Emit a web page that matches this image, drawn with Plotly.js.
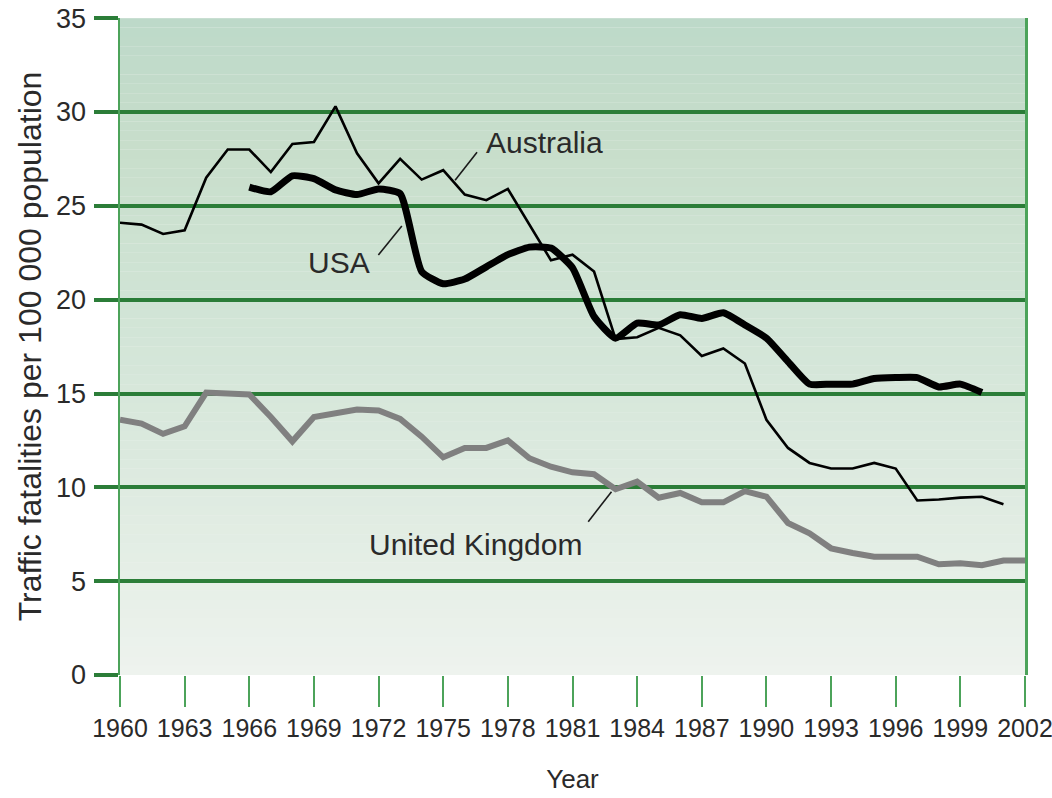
<!DOCTYPE html>
<html>
<head>
<meta charset="utf-8">
<script src="https://cdn.plot.ly/plotly-3.0.1.min.js"></script>
<style>
  html, body { margin: 0; padding: 0; background: #ffffff; }
  #chart { width: 1052px; height: 798px; }
</style>
</head>
<body>
<div id="chart"></div>
<script>
// ---- Data ----
const years = [1960,1961,1962,1963,1964,1965,1966,1967,1968,1969,
               1970,1971,1972,1973,1974,1975,1976,1977,1978,1979,
               1980,1981,1982,1983,1984,1985,1986,1987,1988,1989,
               1990,1991,1992,1993,1994,1995,1996,1997,1998,1999,
               2000,2001,2002];

const australiaYears = years.slice(0, 42); // 1960-2001
const australia = [24.1,24.0,23.5,23.7,26.5,28.0,28.0,26.8,28.3,28.4,
                   30.3,27.8,26.2,27.5,26.4,26.9,25.6,25.3,25.9,24.0,
                   22.1,22.4,21.5,17.9,18.0,18.5,18.1,17.0,17.4,16.6,
                   13.6,12.1,11.3,11.0,11.0,11.3,11.0,9.3,9.35,9.45,
                   9.5,9.1];

const usaYears = years.slice(6, 41); // 1966-2000
const usa = [26.0,25.75,26.6,26.45,25.85,25.6,25.9,25.65,21.5,20.85,
             21.1,21.75,22.4,22.8,22.75,21.7,19.1,17.95,18.75,18.65,
             19.2,19.0,19.3,18.65,17.95,16.7,15.5,15.5,15.5,15.8,
             15.85,15.85,15.35,15.5,15.05];

const ukYears = years; // 1960-2002
const uk = [13.6,13.4,12.85,13.25,15.05,15.0,14.95,13.75,12.45,13.75,
            13.95,14.15,14.1,13.65,12.7,11.6,12.1,12.1,12.5,11.55,
            11.1,10.8,10.7,9.9,10.3,9.45,9.7,9.2,9.2,9.8,
            9.5,8.1,7.55,6.75,6.5,6.3,6.3,6.3,5.9,5.95,
            5.85,6.1,6.1];

const seriesLabels = ["Australia", "USA", "United Kingdom"];
const xTitle = "Year";
const yTitle = "Traffic fatalities per 100 000 population";

// ---- Styling ----
const FONT = '"Liberation Sans", Arial, sans-serif';
const GRID = '#2b7d38';
const BORDER = '#4ca35a';
const TXT = '#2a2a2a';

// background gradient bands (decoration)
const stops = [
  [0,  [238,243,238]],
  [5,  [230,239,231]],
  [12, [219,233,222]],
  [20, [208,228,213]],
  [28, [200,222,203]],
  [35, [189,217,201]]
];
function colAt(v) {
  for (let i = 0; i < stops.length - 1; i++) {
    const [a, ca] = stops[i], [b, cb] = stops[i+1];
    if (v >= a && v <= b) {
      const t = (v - a) / (b - a);
      return 'rgb(' + ca.map((c, k) => Math.round(c + (cb[k] - c) * t)).join(',') + ')';
    }
  }
  return 'rgb(238,243,238)';
}
const shapes = [];
const band = 0.5;
for (let v = 0; v < 35; v += band) {
  shapes.push({
    type: 'rect', xref: 'x domain', yref: 'y', x0: 0, x1: 1, y0: v, y1: v + band,
    fillcolor: colAt(v + band / 2), line: { width: 0 }, layer: 'below'
  });
}
// leader lines for the series labels
const leaders = [
  [1975.55, 26.37, 1976.57, 27.85],
  [1971.99, 22.38, 1973.08, 23.92],
  [1981.73, 8.17, 1982.81, 9.77]
];
leaders.forEach(l => shapes.push({
  type: 'line', xref: 'x', yref: 'y', x0: l[0], y0: l[1], x1: l[2], y1: l[3],
  line: { color: '#1a1a1a', width: 1.6 }, layer: 'above'
}));

const traces = [
  { x: ukYears, y: uk, name: seriesLabels[2], mode: 'lines',
    line: { color: '#808080', width: 6, shape: 'linear' }, hoverinfo: 'x+y+name' },
  { x: australiaYears, y: australia, name: seriesLabels[0], mode: 'lines',
    line: { color: '#000000', width: 2.6, shape: 'linear' }, hoverinfo: 'x+y+name' },
  { x: usaYears, y: usa, name: seriesLabels[1], mode: 'lines',
    line: { color: '#000000', width: 7, shape: 'spline', smoothing: 0.5 }, hoverinfo: 'x+y+name' }
];

const annFont = { family: FONT, size: 30, color: TXT };
const annotations = [
  { x: 1976.9, y: 28.4, xref: 'x', yref: 'y', text: seriesLabels[0], showarrow: false,
    xanchor: 'left', yanchor: 'middle', font: annFont },
  { x: 1971.7, y: 22.0, xref: 'x', yref: 'y', text: seriesLabels[1], showarrow: false,
    xanchor: 'right', yanchor: 'middle', font: annFont },
  { x: 1981.55, y: 6.95, xref: 'x', yref: 'y', text: seriesLabels[2], showarrow: false,
    xanchor: 'right', yanchor: 'middle', font: annFont }
];

const layout = {
  width: 1052, height: 798,
  margin: { l: 120, r: 27, t: 18, b: 123 },
  paper_bgcolor: '#ffffff',
  plot_bgcolor: '#eef3ee',
  showlegend: false,
  xaxis: {
    range: [1960, 2002], tick0: 1960, dtick: 3, tickmode: 'linear',
    showgrid: false, zeroline: false, showline: false,
    ticks: 'outside', ticklen: 31, tickwidth: 2, tickcolor: BORDER,
    tickangle: 0, ticklabeloverflow: 'allow',
    tickfont: { family: FONT, size: 25, color: TXT },
    title: { text: xTitle, font: { family: FONT, size: 26, color: TXT }, standoff: 28 },
    fixedrange: true
  },
  yaxis: {
    range: [0, 35.01], tick0: 0, dtick: 5, tickmode: 'linear',
    showgrid: true, gridcolor: GRID, gridwidth: 4,
    zeroline: false,
    showline: true, linecolor: BORDER, linewidth: 2.5, mirror: true,
    ticks: 'outside', ticklen: 24, tickwidth: 4, tickcolor: GRID,
    ticklabelstandoff: 2,
    tickfont: { family: FONT, size: 27, color: TXT },
    title: { text: yTitle, font: { family: FONT, size: 32, color: TXT }, standoff: 5 },
    fixedrange: true
  },
  shapes: shapes,
  annotations: annotations
};

Plotly.newPlot('chart', traces, layout, { displayModeBar: false, staticPlot: true });
</script>
</body>
</html>
